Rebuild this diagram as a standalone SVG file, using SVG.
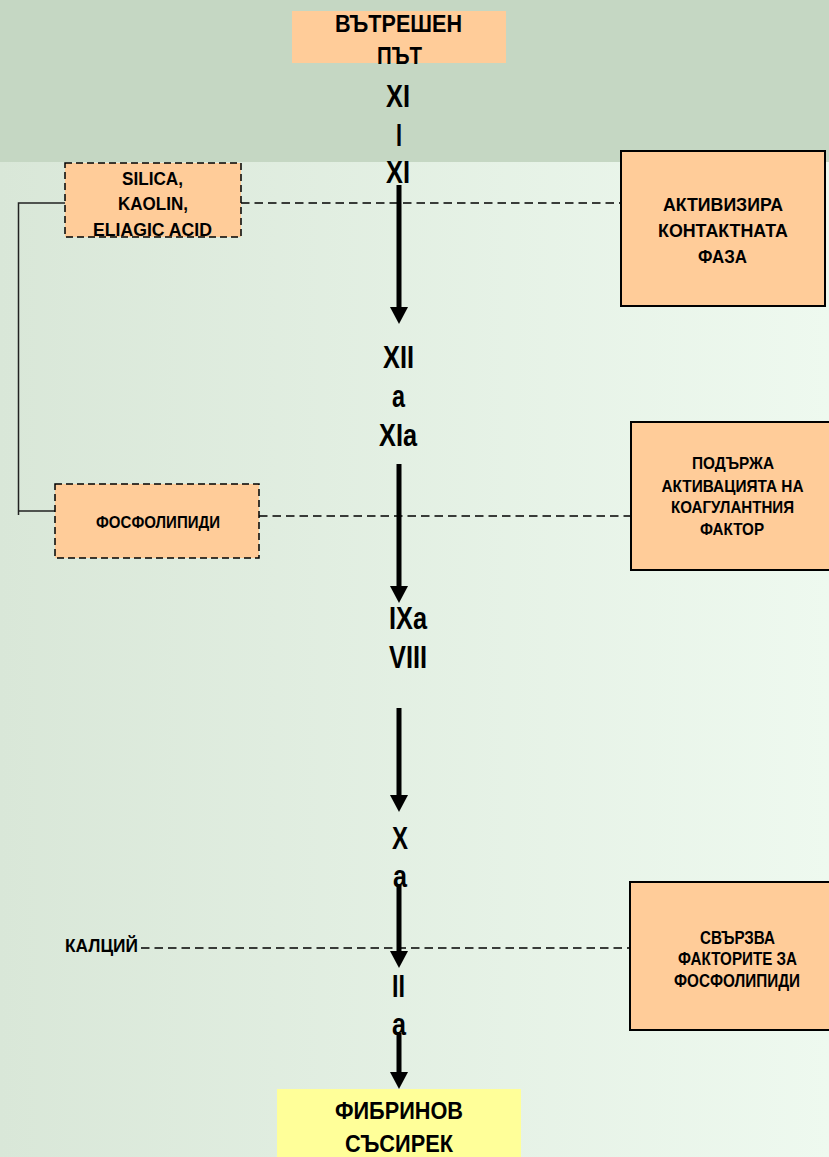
<svg xmlns="http://www.w3.org/2000/svg" width="829" height="1157" viewBox="0 0 829 1157">
<defs>
<linearGradient id="bg" x1="0" y1="0" x2="1" y2="0">
<stop offset="0" stop-color="#d9e7d8"/>
<stop offset="1" stop-color="#eef9ef"/>
</linearGradient>
<marker id="ah" viewBox="0 0 17 18" markerWidth="17" markerHeight="18" refX="0" refY="9" orient="auto" markerUnits="userSpaceOnUse">
<path d="M0,0 L17,9 L0,18 Z" fill="#000"/>
</marker>
<style>
text{font-family:"Liberation Sans",Arial,sans-serif;font-weight:bold;fill:#000;text-anchor:middle}
.big{font-size:31px}
.hdr{font-size:24px}
.bx{font-size:18px}
.sm{font-size:17px}
.solid{fill:#ffcc99;stroke:#000;stroke-width:2}
.dash{fill:#ffcc99;stroke:#000;stroke-width:1.5;stroke-dasharray:7 4}
.dl{stroke:#000;stroke-width:1.5;stroke-dasharray:8.5 5;fill:none}
.br{stroke:#222;stroke-width:1.5;fill:none}
.ar{stroke:#000;stroke-width:5;fill:none;marker-end:url(#ah)}
</style>
</defs>
<rect x="0" y="0" width="829" height="1157" fill="url(#bg)"/>
<rect x="0" y="0" width="829" height="162" fill="#c5d7c3"/>

<g id="connectors">
<path class="br" d="M65,203 H18.5 V515 M18.5,511 H55"/>
<line class="dl" x1="241" y1="203" x2="621" y2="203"/>
<line class="dl" x1="259" y1="516" x2="631" y2="516"/>
<line class="dl" x1="141" y1="948" x2="630" y2="948"/>
<line class="ar" x1="399" y1="185" x2="399" y2="307"/>
<line class="ar" x1="399" y1="464" x2="399" y2="586"/>
<line class="ar" x1="399" y1="708" x2="399" y2="795"/>
<line class="ar" x1="399" y1="885" x2="399" y2="951"/>
<line class="ar" x1="399" y1="1033" x2="399" y2="1072"/>
</g>

<g id="vatreshen-pat">
<rect x="292" y="11" width="214" height="52" fill="#ffcc99"/>
<text class="hdr" x="398.5" y="32" textLength="127" lengthAdjust="spacingAndGlyphs">ВЪТРЕШЕН</text>
<text class="hdr" x="399.5" y="64" textLength="45" lengthAdjust="spacingAndGlyphs">ПЪТ</text>
</g>

<g id="f-xi">
<text class="big" x="398" y="107" textLength="24" lengthAdjust="spacingAndGlyphs">XI</text>
<text class="big" x="399" y="146" textLength="6" lengthAdjust="spacingAndGlyphs">I</text>
<text class="big" x="398" y="183" textLength="24" lengthAdjust="spacingAndGlyphs">XI</text>
</g>

<g id="silica">
<rect class="dash" x="65" y="163" width="176" height="74"/>
<text class="bx" x="152.5" y="185" textLength="61" lengthAdjust="spacingAndGlyphs">SILICA,</text>
<text class="bx" x="153" y="210" textLength="70" lengthAdjust="spacingAndGlyphs">KAOLIN,</text>
<text class="bx" x="152.5" y="236" textLength="119" lengthAdjust="spacingAndGlyphs">ELIAGIC ACID</text>
</g>

<g id="aktivizira">
<rect class="solid" x="621" y="151" width="204" height="155"/>
<text class="bx" x="723" y="211" textLength="120" lengthAdjust="spacingAndGlyphs">АКТИВИЗИРА</text>
<text class="bx" x="723" y="237" textLength="130" lengthAdjust="spacingAndGlyphs">КОНТАКТНАТА</text>
<text class="bx" x="722.5" y="263" textLength="49" lengthAdjust="spacingAndGlyphs">ФАЗА</text>
</g>

<g id="f-xiia">
<text class="big" x="398.5" y="368" textLength="31" lengthAdjust="spacingAndGlyphs">XII</text>
<text class="big" x="398.5" y="407" textLength="13" lengthAdjust="spacingAndGlyphs">a</text>
<text class="big" x="398" y="446" textLength="38" lengthAdjust="spacingAndGlyphs">XIa</text>
</g>

<g id="fosfolipidi">
<rect class="dash" x="55" y="484" width="204" height="74"/>
<text class="sm" x="158" y="528" textLength="124" lengthAdjust="spacingAndGlyphs">ФОСФОЛИПИДИ</text>
</g>

<g id="podarzha">
<rect class="solid" x="631" y="422" width="200" height="148"/>
<text class="sm" x="733" y="469" textLength="82" lengthAdjust="spacingAndGlyphs">ПОДЪРЖА</text>
<text class="sm" x="732.5" y="492" textLength="142" lengthAdjust="spacingAndGlyphs">АКТИВАЦИЯТА НА</text>
<text class="sm" x="732.5" y="513" textLength="123" lengthAdjust="spacingAndGlyphs">КОАГУЛАНТНИЯ</text>
<text class="sm" x="732" y="535" textLength="64" lengthAdjust="spacingAndGlyphs">ФАКТОР</text>
</g>

<g id="f-ixa">
<text class="big" x="408" y="629" textLength="38" lengthAdjust="spacingAndGlyphs">IXa</text>
<text class="big" x="408" y="668" textLength="38" lengthAdjust="spacingAndGlyphs">VIII</text>
</g>

<g id="f-xa">
<text class="big" x="400" y="849" textLength="16" lengthAdjust="spacingAndGlyphs">X</text>
<text class="big" x="400" y="887" textLength="14" lengthAdjust="spacingAndGlyphs">a</text>
</g>

<g id="kalciy">
<text class="bx" x="101.5" y="952" textLength="73" lengthAdjust="spacingAndGlyphs">КАЛЦИЙ</text>
</g>

<g id="svarzva">
<rect class="solid" x="630" y="882" width="201" height="148"/>
<text class="bx" x="737.5" y="944" textLength="75" lengthAdjust="spacingAndGlyphs">СВЪРЗВА</text>
<text class="bx" x="737.5" y="965" textLength="119" lengthAdjust="spacingAndGlyphs">ФАКТОРИТЕ ЗА</text>
<text class="bx" x="737" y="987" textLength="126" lengthAdjust="spacingAndGlyphs">ФОСФОЛИПИДИ</text>
</g>

<g id="f-iia">
<text class="big" x="398.5" y="997" textLength="13" lengthAdjust="spacingAndGlyphs">II</text>
<text class="big" x="399" y="1035" textLength="14" lengthAdjust="spacingAndGlyphs">a</text>
</g>

<g id="fibrinov">
<rect x="277" y="1089" width="244" height="68" fill="#ffff99"/>
<text class="hdr" x="399" y="1119" textLength="128" lengthAdjust="spacingAndGlyphs">ФИБРИНОВ</text>
<text class="hdr" x="399" y="1152" textLength="108" lengthAdjust="spacingAndGlyphs">СЪСИРЕК</text>
</g>
</svg>
